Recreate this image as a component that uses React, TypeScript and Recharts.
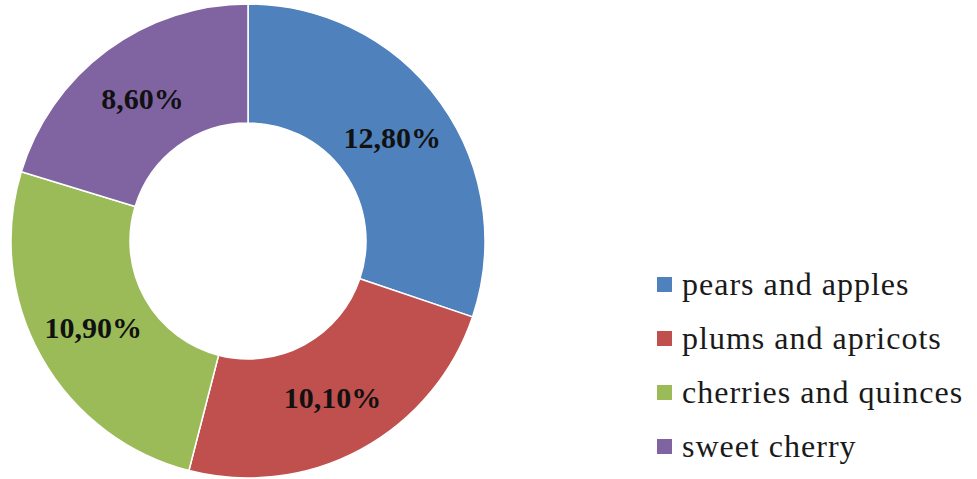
import React from "react";
import { PieChart, Pie, Cell, Legend } from "recharts";

const CATEGORIES = [
  "pears and apples",
  "plums and apricots",
  "cherries and quinces",
  "sweet cherry",
];
const SHARES = [12.8, 10.1, 10.9, 8.6];
const COLORS = ["#4F81BD", "#C0504D", "#9BBB59", "#8064A2"];

const data = CATEGORIES.map((name, i) => ({ name, value: SHARES[i] }));

const RAD = Math.PI / 180;

const fmt = (v: number) => v.toFixed(2).replace(".", ",") + "%";

const renderLabel = (props: any) => {
  const { cx, cy, midAngle, innerRadius, outerRadius, value } = props;
  const r = (innerRadius + outerRadius) / 2;
  const x = cx + r * Math.cos(-midAngle * RAD);
  const y = cy + r * Math.sin(-midAngle * RAD);
  return (
    <text
      x={x}
      y={y}
      textAnchor="middle"
      dominantBaseline="central"
      fill="#111"
      style={{
        fontFamily: "'Liberation Serif', 'Times New Roman', serif",
        fontWeight: "bold",
        fontSize: 30,
      }}
    >
      {fmt(value)}
    </text>
  );
};

const renderLegend = () => (
  <div
    style={{
      fontFamily: "'Liberation Serif', 'Times New Roman', serif",
      fontSize: 32,
      letterSpacing: 1,
      color: "#1a1a1a",
    }}
  >
    {CATEGORIES.map((name, i) => (
      <div
        key={name}
        style={{ display: "flex", alignItems: "center", height: 54 }}
      >
        <span
          style={{
            display: "inline-block",
            width: 15,
            height: 15,
            background: COLORS[i],
            marginRight: 10,
          }}
        />
        <span>{name}</span>
      </div>
    ))}
  </div>
);

export default function App() {
  return (
    <div
      style={{
        position: "absolute",
        left: 0,
        top: 0,
        width: 977,
        height: 479,
        background: "#fff",
      }}
    >
      <PieChart
        width={977}
        height={479}
        margin={{ top: 0, right: 0, bottom: 0, left: 0 }}
      >
        <Pie
          data={data}
          dataKey="value"
          nameKey="name"
          cx={248}
          cy={241}
          innerRadius={118}
          outerRadius={237}
          startAngle={90}
          endAngle={-270}
          stroke="#fff"
          strokeWidth={1.5}
          label={renderLabel}
          labelLine={false}
          isAnimationActive={false}
        >
          {data.map((d, i) => (
            <Cell key={d.name} fill={COLORS[i]} />
          ))}
        </Pie>
        <Legend
          content={renderLegend}
          wrapperStyle={{ position: "absolute", left: 657, top: 257, width: 320 }}
        />
      </PieChart>
    </div>
  );
}
